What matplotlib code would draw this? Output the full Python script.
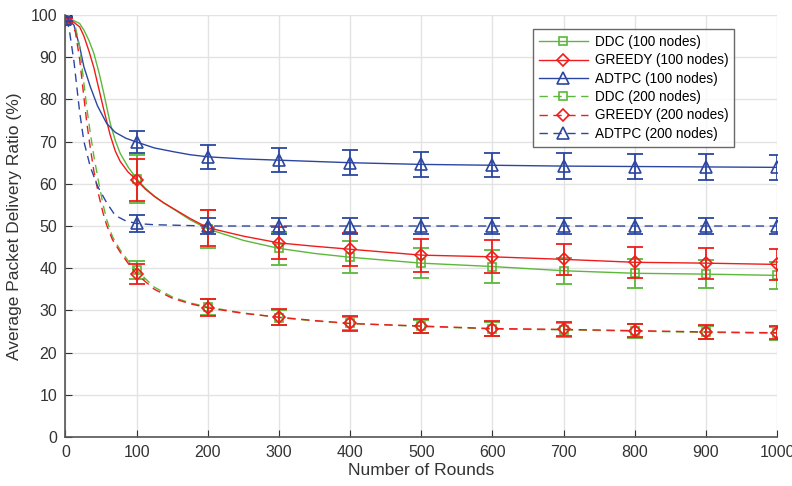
import numpy as np
import matplotlib
matplotlib.use('Agg')
import matplotlib.pyplot as plt

plt.rcParams['font.family'] = ['Liberation Sans', 'DejaVu Sans']
plt.rcParams['font.size'] = 11

# points (dense near the start, marker points every 100)
x_ddc = [0, 10, 20, 26, 33, 40, 47, 54, 63, 70, 77, 88, 100, 112, 125, 138, 152, 175, 200, 250, 300, 350, 400,
         500, 600, 700, 800, 900, 1000]
ddc100 = [99, 98.8, 98, 96.4, 94, 90.9, 86.5, 81.4, 74.3, 70.3, 67.2, 64, 61.2, 59.0, 57.1, 55.5, 54.0, 51.5, 49.3,
          46.6, 44.7, 43.5, 42.6, 41.2, 40.4, 39.4, 38.8, 38.6, 38.3]
greedy100 = [98.8, 98.5, 97.2, 95, 91.5, 87.5, 82.5, 77.5, 71.5, 67.8, 65.3, 62.8, 60.9, 58.8, 57.0, 55.5, 54.1,
             51.8, 49.6, 47.6, 46.0, 45.2, 44.5, 43.1, 42.7, 42.1, 41.4, 41.2, 40.9]

x_adt = [0, 5, 12, 20, 26, 35, 45, 58, 70, 85, 100, 125, 152, 175, 200, 250, 300, 350, 400,
         500, 600, 700, 800, 900, 1000]
adtpc100 = [99, 98.8, 97.6, 92.5, 87.7, 83.0, 78.5, 74.3, 72.2, 70.8, 69.9, 68.5, 67.6, 66.9, 66.4, 65.9,
            65.6, 65.3, 65.0, 64.6, 64.4, 64.2, 64.1, 64.0, 63.9]
adtpc200 = [99, 97, 89, 77, 70, 64, 59.5, 55.5, 52.5, 51.2, 50.6, 50.3, 50.2, 50.1, 50.0, 50.0,
            50.0, 50.0, 50.0, 50.0, 50.0, 50.0, 50.0, 50.0, 50.0]

x_200 = [0, 8, 14, 20, 26, 30, 35, 40, 47, 53, 58, 66, 77, 88, 100, 125, 150, 175, 200, 250, 300, 350, 400,
         500, 600, 700, 800, 900, 1000]
ddc200 = [99, 98.6, 97.2, 92.5, 83.8, 78, 72, 66.5, 60.1, 55, 51.5, 47.5, 44.3, 41.8, 39.5, 35.5, 33.2, 31.8, 30.8,
          29.4, 28.3, 27.5, 26.9, 26.2, 25.6, 25.4, 25.1, 24.8, 24.6]
greedy200 = [98.8, 98.2, 96, 89.5, 80.5, 74.5, 68.5, 63, 57.2, 53, 50.2, 46.8, 43.8, 41.2, 38.6, 35.0, 32.9, 31.6, 30.6,
             29.3, 28.4, 27.6, 26.9, 26.3, 25.7, 25.5, 25.2, 24.9, 24.7]

# error bars at x = 0, 100, ..., 1000
x_err = [0, 100, 200, 300, 400, 500, 600, 700, 800, 900, 1000]
err_ddc100 = [0.5, 5.7, 4.4, 4.0, 3.8, 3.6, 3.9, 3.1, 3.4, 3.3, 3.2]
err_greedy100 = [0.5, 5.0, 4.3, 3.8, 3.9, 3.9, 3.9, 3.6, 3.7, 3.7, 3.75]
err_adtpc100 = [0.5, 2.7, 2.8, 2.9, 2.9, 2.9, 2.9, 3.0, 3.0, 3.0, 3.0]
err_adtpc200 = [0.5, 2.0, 1.9, 1.9, 1.9, 1.9, 1.9, 1.9, 1.9, 1.9, 1.9]
err_ddc200 = [0.5, 2.1, 2.0, 1.7, 1.6, 1.6, 1.6, 1.6, 1.6, 1.5, 1.5]
err_greedy200 = [0.5, 2.4, 2.0, 1.85, 1.8, 1.7, 1.75, 1.65, 1.6, 1.6, 1.5]

green = '#5cb83a'
red = '#f01c1c'
blue = '#2c46a0'

fig = plt.figure(figsize=(7.92, 4.86), dpi=100)
ax = fig.add_axes([0.0826, 0.1008, 0.8985, 0.8683])


def draw(x, y, err, color, ls, marker, ms, label):
    x = np.array(x)
    y = np.array(y)
    idx = [int(np.where(x == v)[0][0]) for v in x_err]
    ax.plot(x, y, color=color, ls=ls, lw=1.0, marker=marker, ms=ms, mfc='none',
            mec=color, mew=1.2, markevery=idx, label=label,
            dashes=(6, 4) if ls == '--' else (None, None))
    ax.errorbar(x[idx], y[idx], yerr=err, fmt='none', ecolor=color, elinewidth=1.3,
                capsize=6, capthick=1.3)


draw(x_ddc, ddc100, err_ddc100, green, '-', 's', 6, 'DDC (100 nodes)')
draw(x_ddc, greedy100, err_greedy100, red, '-', 'D', 6.5, 'GREEDY (100 nodes)')
draw(x_adt, adtpc100, err_adtpc100, blue, '-', '^', 8, 'ADTPC (100 nodes)')
draw(x_200, ddc200, err_ddc200, green, '--', 's', 6, 'DDC (200 nodes)')
draw(x_200, greedy200, err_greedy200, red, '--', 'D', 6.5, 'GREEDY (200 nodes)')
draw(x_adt, adtpc200, err_adtpc200, blue, '--', '^', 8, 'ADTPC (200 nodes)')

ax.set_xlim(0, 1000)
ax.set_ylim(0, 100)
ax.set_xticks(range(0, 1001, 100))
ax.set_yticks(range(0, 101, 10))
ax.grid(True, color='#e3e3e3', lw=1.0)
ax.set_axisbelow(True)
for s in ['top', 'right']:
    ax.spines[s].set_visible(False)
for s in ['left', 'bottom']:
    ax.spines[s].set_color('#555555')
    ax.spines[s].set_linewidth(1.2)
ax.tick_params(direction='in', length=5, colors='#333333', labelsize=11.5, pad=6)
ax.set_xlabel('Number of Rounds', fontsize=12.5, color='#333333', labelpad=2)
ax.set_ylabel('Average Packet Delivery Ratio (%)', fontsize=12.5, color='#333333', labelpad=6)

leg = ax.legend(loc='upper right', bbox_to_anchor=(0.94, 0.967), fontsize=9.8,
                handlelength=3.6, frameon=True, fancybox=False, borderpad=0.45,
                labelspacing=0.32, handletextpad=0.5, borderaxespad=0)
leg.get_frame().set_edgecolor('#444444')
leg.get_frame().set_linewidth(1.0)

fig.savefig('out.png', dpi=100)
